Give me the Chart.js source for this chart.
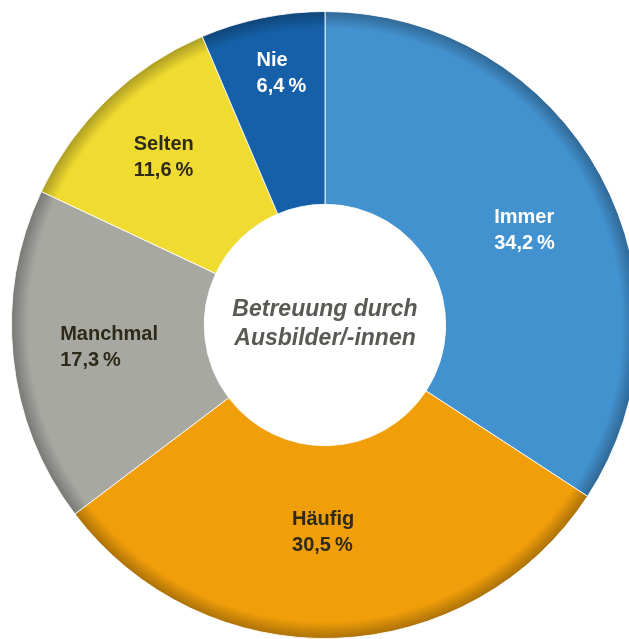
<!DOCTYPE html>
<html>
<head>
<meta charset="utf-8">
<script src="https://cdn.jsdelivr.net/npm/chart.js@4"></script>
<style>
  html, body { margin: 0; padding: 0; background: #fff; overflow: hidden; }
  #wrap { width: 629px; height: 639px; overflow: hidden; position: relative; }
  canvas { position: absolute; left: 0; top: 0; }
</style>
</head>
<body>
<div id="wrap"><canvas id="chart" width="650" height="650"></canvas></div>
<script>
// Daten
const categories = ['Immer', 'Häufig', 'Manchmal', 'Selten', 'Nie'];
const shares = [34.2, 30.5, 17.3, 11.6, 6.4];
const centerTitle = ['Betreuung durch', 'Ausbilder/-innen'];

// Farben
const sliceColors = ['#4392d0', '#f09e0a', '#a8a8a3', '#f0dc30', '#1560a8'];
const labelColors = ['#ffffff', '#2e2a1a', '#2e2a1a', '#2e2a1a', '#ffffff'];
// Label-Lage: Tiefe im Ring (0 = innen, 1 = aussen) und kleine Drehung in Grad
const labelDepth = [0.52, 0.45, 0.50, 0.58, 0.70];
const labelTurn = [3, 2.5, 0, 0, 1.7];

function darken(hex, f) {
    const n = parseInt(hex.slice(1), 16);
    const r = Math.round(((n >> 16) & 255) * f);
    const g = Math.round(((n >> 8) & 255) * f);
    const b = Math.round((n & 255) * f);
    return `rgb(${r},${g},${b})`;
}

// Schatten am Aussenrand
function rimGradient(ctx) {
    const chart = ctx.chart;
    const area = chart.chartArea;
    if (!area) return sliceColors[ctx.dataIndex];
    const cx = (area.left + area.right) / 2;
    const cy = (area.top + area.bottom) / 2;
    const r = Math.min(area.right - area.left, area.bottom - area.top) / 2;
    const base = sliceColors[ctx.dataIndex];
    const g = chart.ctx.createRadialGradient(cx, cy, 0, cx, cy, r);
    g.addColorStop(0, base);
    g.addColorStop(0.945, base);
    g.addColorStop(1, darken(base, 0.7));
    return g;
}

const fmt = v => v.toFixed(1).replace('.', ',') + '\u2009%';

const sliceLabels = {
    id: 'sliceLabels',
    afterDatasetsDraw(chart) {
        const ctx = chart.ctx;
        const meta = chart.getDatasetMeta(0);
        ctx.save();
        ctx.font = 'bold 20px "Liberation Sans", Arial, sans-serif';
        ctx.textBaseline = 'middle';
        ctx.textAlign = 'left';
        meta.data.forEach((arc, i) => {
            const mid = (arc.startAngle + arc.endAngle) / 2 + labelTurn[i] * Math.PI / 180;
            const r = arc.innerRadius + (arc.outerRadius - arc.innerRadius) * labelDepth[i];
            const ax = arc.x + Math.cos(mid) * r;
            const ay = arc.y + Math.sin(mid) * r;
            const l1 = categories[i];
            const l2 = fmt(shares[i]);
            const w = Math.max(ctx.measureText(l1).width, ctx.measureText(l2).width);
            ctx.fillStyle = labelColors[i];
            ctx.fillText(l1, ax - w / 2, ay - 13);
            ctx.fillText(l2, ax - w / 2, ay + 13);
        });
        // Titel in der Mitte
        const a = meta.data[0];
        ctx.font = 'italic bold 23px "Liberation Sans", Arial, sans-serif';
        ctx.textAlign = 'center';
        ctx.fillStyle = '#5a5a55';
        ctx.fillText(centerTitle[0], a.x, a.y - 15);
        ctx.fillText(centerTitle[1], a.x, a.y + 14);
        ctx.restore();
    }
};

new Chart(document.getElementById('chart'), {
    type: 'doughnut',
    data: {
        labels: categories,
        datasets: [{
            data: shares,
            backgroundColor: rimGradient,
            borderColor: 'rgba(255,255,255,0.85)',
            borderWidth: 1,
            hoverOffset: 0
        }]
    },
    options: {
        responsive: false,
        animation: false,
        cutout: '38.5%',
        layout: { padding: 11 },
        plugins: {
            legend: { display: false },
            tooltip: { enabled: false }
        }
    },
    plugins: [sliceLabels]
});
</script>
</body>
</html>
